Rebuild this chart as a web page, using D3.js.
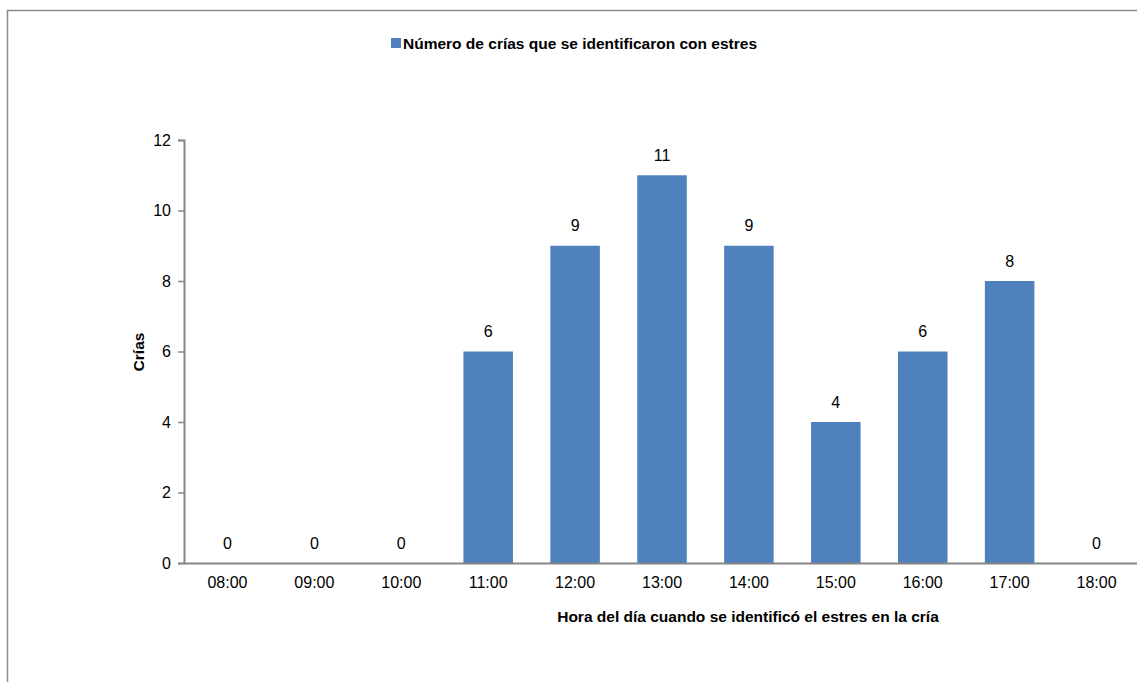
<!DOCTYPE html>
<html>
<head>
<meta charset="utf-8">
<script src="https://cdn.jsdelivr.net/npm/d3@7"></script>
<style>
  body { margin: 0; background: #fff; }
  svg { font-family: "Liberation Sans", Arial, sans-serif; }
</style>
</head>
<body>
<svg class="chart" width="1137" height="682"></svg>
<script>
// data
var horas = ["08:00", "09:00", "10:00", "11:00", "12:00", "13:00", "14:00", "15:00", "16:00", "17:00", "18:00"];
var crias = [0, 0, 0, 6, 9, 11, 9, 4, 6, 8, 0];
var yTicks = [0, 2, 4, 6, 8, 10, 12];
var serieNombre = "Número de crías que se identificaron con estres";

var svg = d3.select(".chart");

// outer frame
svg.append("rect")
    .attr("x", 7.5).attr("y", 10.5)
    .attr("width", 1200).attr("height", 700)
    .attr("fill", "none")
    .attr("stroke", "#8c8c8c")
    .attr("stroke-width", 1.5);

var plotLeft = 184, plotRight = 1140, plotTop = 140, plotBottom = 563;

var x = d3.scaleBand()
    .domain(horas)
    .range([plotLeft, plotRight])
    .paddingInner(0.43)
    .paddingOuter(0.215);

var xCat = d3.scaleBand().domain(horas).range([plotLeft, plotRight]);

var y = d3.scaleLinear()
    .domain([0, 12])
    .range([plotBottom, plotTop]);

// bars
svg.selectAll(".bar")
    .data(crias)
    .enter().append("rect")
      .attr("class", "bar")
      .attr("x", function(d, i) { return x(horas[i]); })
      .attr("y", function(d) { return y(d); })
      .attr("width", x.bandwidth())
      .attr("height", function(d) { return plotBottom - y(d); })
      .attr("fill", "#4F81BD");

// value labels
svg.selectAll(".val")
    .data(crias)
    .enter().append("text")
      .attr("class", "val")
      .attr("x", function(d, i) { return xCat(horas[i]) + xCat.bandwidth() / 2; })
      .attr("y", function(d) { return y(d) - 14.5; })
      .attr("text-anchor", "middle")
      .style("font-size", "16px")
      .attr("fill", "#000")
      .text(function(d) { return d; });

// y axis
var yAxis = svg.append("g")
    .attr("transform", "translate(" + plotLeft + ",0)")
    .call(d3.axisLeft(y).tickValues(yTicks).tickSize(6).tickPadding(7));
yAxis.select(".domain").attr("stroke", "#868686").attr("stroke-width", 2);
yAxis.selectAll(".tick line").attr("stroke", "#868686").attr("stroke-width", 1.5);
yAxis.selectAll("text").style("font-size", "16px").style("font-family", "Liberation Sans, Arial, sans-serif").attr("fill", "#000");

// x axis
var xAxis = svg.append("g")
    .attr("transform", "translate(0," + plotBottom + ")")
    .call(d3.axisBottom(xCat).tickSize(0).tickPadding(13.5).tickSizeOuter(0));
xAxis.select(".domain").attr("stroke", "#868686").attr("stroke-width", 2);
xAxis.selectAll("text").style("font-size", "16px").style("font-family", "Liberation Sans, Arial, sans-serif").attr("fill", "#000");

// axis titles
svg.append("text")
    .attr("x", 748).attr("y", 621.5)
    .attr("text-anchor", "middle")
    .style("font-size", "15.5px")
    .style("font-weight", "bold")
    .text("Hora del día cuando se identificó el estres en la cría");

svg.append("text")
    .attr("transform", "translate(144,352) rotate(-90)")
    .attr("text-anchor", "middle")
    .style("font-size", "15.5px")
    .style("font-weight", "bold")
    .text("Crías");

// legend
svg.append("rect")
    .attr("x", 391).attr("y", 38)
    .attr("width", 10).attr("height", 10)
    .attr("fill", "#4F81BD");
svg.append("text")
    .attr("x", 403).attr("y", 49)
    .style("font-size", "15.5px")
    .style("font-weight", "bold")
    .text(serieNombre);
</script>
</body>
</html>
